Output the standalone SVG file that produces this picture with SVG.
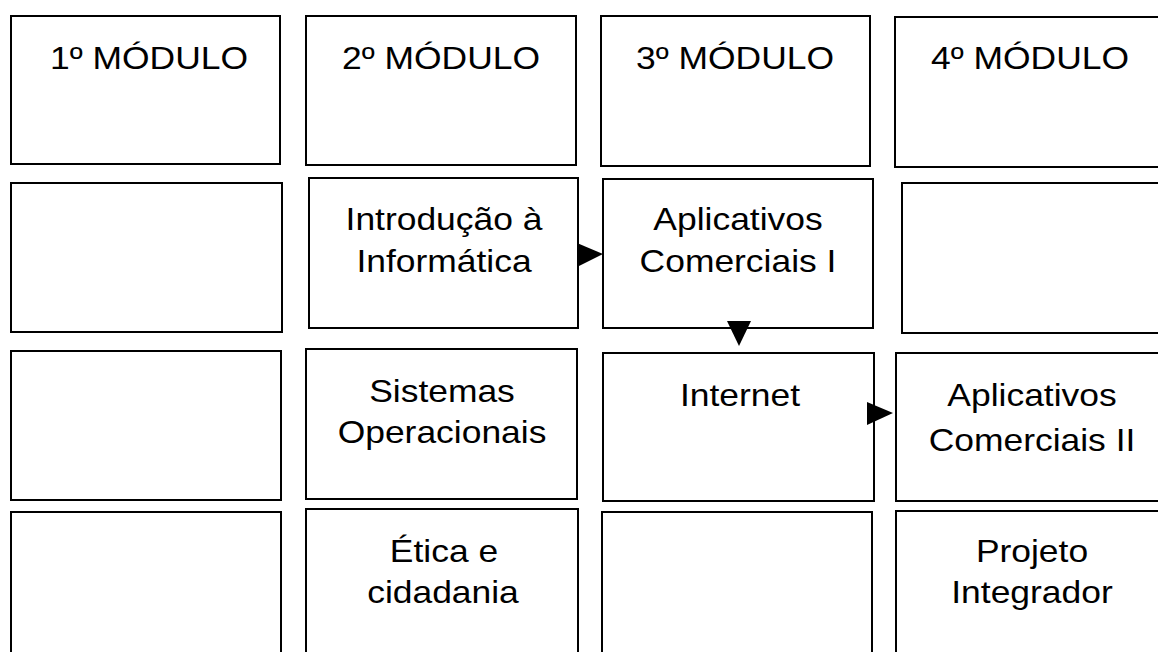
<svg xmlns="http://www.w3.org/2000/svg" width="1158" height="652" viewBox="0 0 1158 652">
<style>
.box{fill:#fff;stroke:#000;stroke-width:2}
.t{font-family:"Liberation Sans",Arial,sans-serif;font-size:32px;fill:#000;text-anchor:middle}
.head{fill:#000;stroke:none}
</style>
<rect width="1158" height="652" fill="#fff"/>
<g id="nodes">
<g id="m1"><rect class="box" x="11" y="16" width="269" height="148"/><text class="t" transform="translate(149,69) scale(1.107,1)">1º MÓDULO</text></g>
<g id="m2"><rect class="box" x="306" y="16" width="270" height="149"/><text class="t" transform="translate(441,69) scale(1.107,1)">2º MÓDULO</text></g>
<g id="m3"><rect class="box" x="601" y="16" width="269" height="150"/><text class="t" transform="translate(735,69) scale(1.107,1)">3º MÓDULO</text></g>
<g id="m4"><rect class="box" x="895" y="17" width="273" height="150"/><text class="t" transform="translate(1030,69) scale(1.107,1)">4º MÓDULO</text></g>

<g id="r2c1"><rect class="box" x="11" y="183" width="271" height="149"/></g>
<g id="introducao"><rect class="box" x="309" y="178" width="269" height="150"/><text class="t" transform="translate(444,230) scale(1.107,1)">Introdução à</text><text class="t" transform="translate(444,272) scale(1.107,1)">Informática</text></g>
<g id="aplicativos1"><rect class="box" x="603" y="179" width="270" height="149"/><text class="t" transform="translate(738,230) scale(1.107,1)">Aplicativos</text><text class="t" transform="translate(738,272) scale(1.107,1)">Comerciais I</text></g>
<g id="r2c4"><rect class="box" x="902" y="183" width="266" height="150"/></g>

<g id="r3c1"><rect class="box" x="11" y="351" width="270" height="149"/></g>
<g id="sistemas"><rect class="box" x="306" y="349" width="271" height="150"/><text class="t" transform="translate(442,402) scale(1.107,1)">Sistemas</text><text class="t" transform="translate(442,443) scale(1.107,1)">Operacionais</text></g>
<g id="internet"><rect class="box" x="603" y="353" width="271" height="148"/><text class="t" transform="translate(740,406) scale(1.107,1)">Internet</text></g>
<g id="aplicativos2"><rect class="box" x="896" y="353" width="272" height="148"/><text class="t" transform="translate(1032,406) scale(1.107,1)">Aplicativos</text><text class="t" transform="translate(1032,451) scale(1.107,1)">Comerciais II</text></g>

<g id="r4c1"><rect class="box" x="11" y="512" width="270" height="150"/></g>
<g id="etica"><rect class="box" x="306" y="509" width="272" height="153"/><text class="t" transform="translate(444,562) scale(1.107,1)">Ética e</text><text class="t" transform="translate(443,603) scale(1.107,1)">cidadania</text></g>
<g id="r4c3"><rect class="box" x="602" y="512" width="270" height="150"/></g>
<g id="projeto"><rect class="box" x="896" y="511" width="272" height="151"/><text class="t" transform="translate(1032,562) scale(1.107,1)">Projeto</text><text class="t" transform="translate(1032,603) scale(1.107,1)">Integrador</text></g>
</g>
<g id="connectors">
<polygon class="head" points="577,243 603,254 577,267"/>
<polygon class="head" points="727,321 751,321 739,346"/>
<polygon class="head" points="867,402 893,413 867,425"/>
</g>
</svg>
